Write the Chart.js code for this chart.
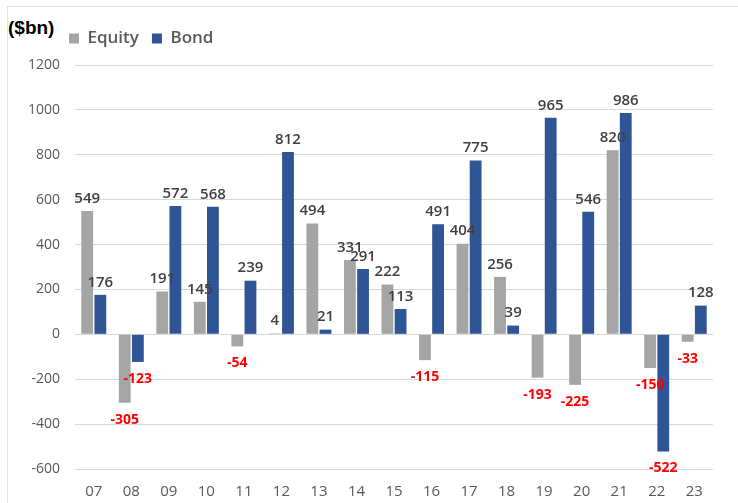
<!DOCTYPE html>
<html>
<head>
<meta charset="utf-8">
<script src="https://cdn.jsdelivr.net/npm/chart.js@4.4.1/dist/chart.umd.min.js"></script>
<style>
  html, body { margin: 0; padding: 0; background: #fff; }
  #wrap { position: relative; width: 738px; height: 503px; }
  #frame { position: absolute; left: 7px; top: 6px; right: 0; bottom: 0;
           border-top: 1px solid #e3e3e3; border-left: 1px solid #e3e3e3; }
  #unit { position: absolute; left: 8px; top: 17px; font: bold 19px "Liberation Sans", Arial, sans-serif; color: #000; }
  canvas { position: absolute; left: 0; top: 0; }
</style>
</head>
<body>
<div id="wrap">
  <div id="frame"></div>
  <div id="unit">($bn)</div>
  <canvas id="flows" width="738" height="503"></canvas>
</div>
<script>
const years = ['07', '08', '09', '10', '11', '12', '13', '14', '15', '16', '17', '18', '19', '20', '21', '22', '23'];
const equity = [549, -305, 191, 145, -54, 4, 494, 331, 222, -115, 404, 256, -193, -225, 820, -150, -33];
const bond = [176, -123, 572, 568, 239, 812, 21, 291, 113, 491, 775, 39, 965, 546, 986, -522, 128];
const yTicks = [-600, -400, -200, 0, 200, 400, 600, 800, 1000, 1200];

// value labels above / below each bar, negatives in red
const barLabels = {
    id: 'barLabels',
    afterDatasetsDraw(chart) {
        const ctx = chart.ctx;
        ctx.save();
        ctx.textAlign = 'center';
        chart.data.datasets.forEach((ds, i) => {
            chart.getDatasetMeta(i).data.forEach((bar, j) => {
                const v = ds.data[j];
                if (v >= 0) {
                    ctx.fillStyle = '#404040';
                    ctx.font = '600 15px "Open Sans"';
                    ctx.textBaseline = 'bottom';
                    ctx.fillText(v, bar.x, bar.y - 5);
                } else {
                    ctx.fillStyle = '#ff0000';
                    ctx.font = 'bold 14px "Open Sans"';
                    ctx.textBaseline = 'top';
                    ctx.fillText(v, bar.x, bar.y + 10);
                }
            });
        });
        ctx.restore();
    }
};

// legend sits to the right of the ($bn) label, with a gap below it
const legendPlace = {
    id: 'legendPlace',
    beforeInit(chart) {
        const fit = chart.legend.fit;
        chart.legend.fit = function () {
            fit.bind(chart.legend)();
            this.height += 8;
        };
    },
    afterLayout(chart) {
        chart.legend.left += 48;
        chart.legend.right += 48;
    }
};

const ctx = document.getElementById('flows').getContext('2d');
const flowsChart = new Chart(ctx, {
    type: 'bar',
    data: {
        labels: years,
        datasets: [
            { label: 'Equity', data: equity, backgroundColor: '#a5a5a5' },
            { label: 'Bond', data: bond, backgroundColor: '#2f5597' }
        ]
    },
    options: {
        responsive: false,
        animation: false,
        layout: { padding: { left: 8, right: 25, top: 17, bottom: 2 } },
        categoryPercentage: 0.7,
        barPercentage: 0.9,
        plugins: {
            legend: {
                position: 'top',
                align: 'start',
                labels: {
                    boxWidth: 10,
                    boxHeight: 10,
                    padding: 13,
                    color: '#595959',
                    font: { family: 'Open Sans', size: 17, weight: '600' }
                }
            },
            tooltip: { enabled: false }
        },
        scales: {
            x: {
                afterFit(axis) { axis.height = 32; },
                grid: { display: false },
                border: { display: false },
                ticks: { color: '#595959', padding: 6, font: { family: 'Open Sans', size: 15 } }
            },
            y: {
                min: -600,
                max: 1200,
                afterBuildTicks(axis) { axis.ticks = yTicks.map(v => ({ value: v })); },
                afterFit(axis) { axis.width = 67; },
                grid: { color: '#d9d9d9', lineWidth: 1, drawTicks: false },
                border: { display: false },
                ticks: {
                    color: '#595959',
                    padding: 15,
                    font: { family: 'Open Sans', size: 14 },
                    callback: v => String(v)
                }
            }
        }
    },
    plugins: [barLabels, legendPlace]
});
</script>
</body>
</html>
